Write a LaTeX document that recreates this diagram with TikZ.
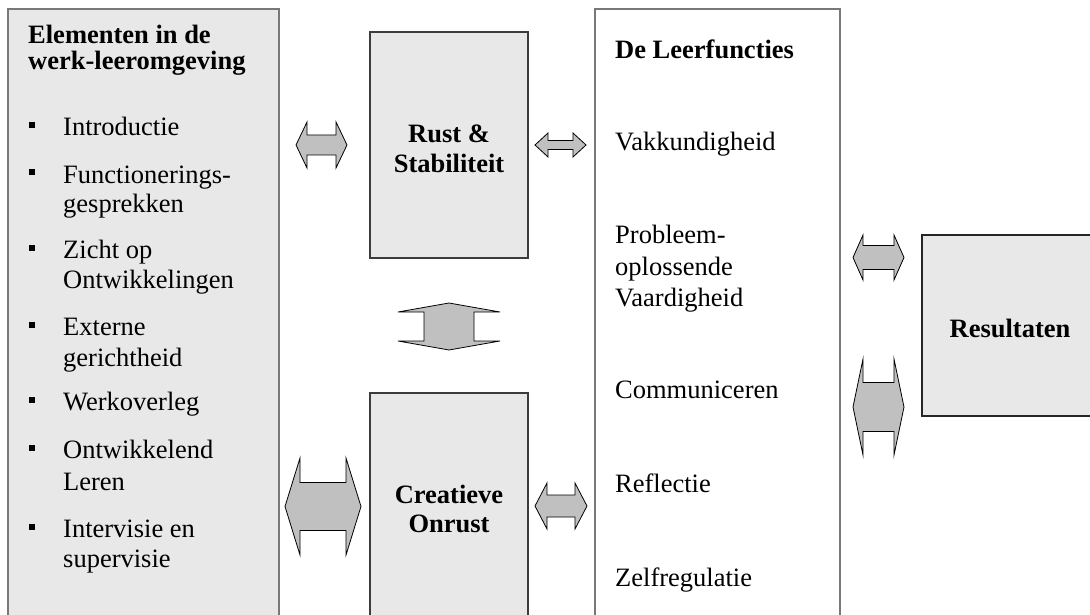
\documentclass[tikz,border=0pt]{standalone}
\usepackage{fontspec}
\setmainfont{Liberation Serif}
\definecolor{boxfill}{RGB}{232,232,232}
\definecolor{arrowfill}{RGB}{192,192,192}
\definecolor{edgegray}{RGB}{120,120,120}
\definecolor{edgedark}{RGB}{60,60,60}
\tikzset{
  panel/.style={fill=boxfill, draw=edgegray, line width=1.3pt},
  whitepanel/.style={fill=white, draw=edgegray, line width=1.3pt},
  darkpanel/.style={fill=boxfill, draw=edgedark, line width=1.2pt},
  blockarrow/.style={fill=arrowfill, draw=black, line width=0.8pt, line join=miter},
  txt/.style={inner sep=0pt, anchor=base west, font=\fontsize{26.5}{28}\selectfont},
  head/.style={txt, font=\fontsize{26.5}{28}\selectfont\bfseries},
  ctitle/.style={inner sep=0pt, anchor=base, font=\fontsize{26.5}{28}\selectfont\bfseries},
  bullet/.style={fill=black, inner sep=0pt, minimum size=6pt},
}
% horizontal double block arrow: centre x, centre y, half length, half head height, half shaft height, head length
\newcommand{\harrowblock}[6]{%
  \draw[blockarrow] (#1-#3,#2) -- (#1-#3+#6,#2-#4) -- (#1-#3+#6,#2-#5) -- (#1+#3-#6,#2-#5)
    -- (#1+#3-#6,#2-#4) -- (#1+#3,#2) -- (#1+#3-#6,#2+#4) -- (#1+#3-#6,#2+#5)
    -- (#1-#3+#6,#2+#5) -- (#1-#3+#6,#2+#4) -- cycle;}
% vertical double block arrow: centre x, centre y, half length, half head width, half shaft width, head length
\newcommand{\varrowblock}[6]{%
  \draw[blockarrow] (#1,#2-#3) -- (#1+#4,#2-#3+#6) -- (#1+#5,#2-#3+#6) -- (#1+#5,#2+#3-#6)
    -- (#1+#4,#2+#3-#6) -- (#1,#2+#3) -- (#1-#4,#2+#3-#6) -- (#1-#5,#2+#3-#6)
    -- (#1-#5,#2-#3+#6) -- (#1-#4,#2-#3+#6) -- cycle;}
\begin{document}
\begin{tikzpicture}[x=1pt,y=-1pt]
\useasboundingbox (0,0) rectangle (1090,615);
\clip (0,0) rectangle (1090,615);
\fill[white] (0,0) rectangle (1090,615);

% boxes
\draw[panel] (8,9) rectangle (279,625);
\draw[darkpanel] (370,32) rectangle (528,258);
\draw[darkpanel] (370,393) rectangle (528,625);
\draw[whitepanel] (595,9) rectangle (840,625);
\draw[darkpanel, draw=black!85] (922,235) rectangle (1100,416);

% left column: elements of the work-learning environment
\node[head] (elA) at (28,44) {Elementen in de};
\node[head] (elB) at (28,70) {werk-leeromgeving};
\foreach \nm/\yy in {b1/136,b2/183,b3/258,b4/335,b5/410,b6/458,b7/537}
  \node[bullet] (\nm) at (32,\yy-10.5) {};
\node[txt] (i1) at (63,136) {Introductie};
\node[txt] (i2a) at (63,183) {Functionerings-};
\node[txt] (i2b) at (63,212) {gesprekken};
\node[txt] (i3a) at (63,258) {Zicht op};
\node[txt] (i3b) at (63,288) {Ontwikkelingen};
\node[txt] (i4a) at (63,335) {Externe};
\node[txt] (i4b) at (63,366) {gerichtheid};
\node[txt] (i5) at (63,410) {Werkoverleg};
\node[txt] (i6a) at (63,458) {Ontwikkelend};
\node[txt] (i6b) at (63,490) {Leren};
\node[txt] (i7a) at (63,537) {Intervisie en};
\node[txt] (i7b) at (63,567) {supervisie};

% middle boxes
\node[ctitle] (rA) at (449,143) {Rust \&};
\node[ctitle] (rB) at (449,172) {Stabiliteit};
\node[ctitle] (cA) at (449,503) {Creatieve};
\node[ctitle] (cB) at (449,532) {Onrust};

% learning functions
\node[head] (lf) at (615,59) {De Leerfuncties};
\node[txt] (f1) at (615,151) {Vakkundigheid};
\node[txt] (f2a) at (615,243) {Probleem-};
\node[txt] (f2b) at (615,275) {oplossende};
\node[txt] (f2c) at (615,306) {Vaardigheid};
\node[txt] (f3) at (615,398) {Communiceren};
\node[txt] (f4) at (615,492) {Reflectie};
\node[txt] (f5) at (615,586) {Zelfregulatie};

% results
\node[ctitle] (res) at (1010,337) {Resultaten};

% block arrows
\harrowblock{321.5}{145}{25.5}{23}{10}{11}
\harrowblock{560.5}{145}{25.5}{12}{4.5}{13}
\varrowblock{449}{326.5}{23.5}{51}{25}{9}
\harrowblock{323}{506.5}{38}{48.5}{24}{15}
\harrowblock{561}{506}{26}{23}{11}{12}
\harrowblock{878.5}{257.5}{25.5}{22.5}{12}{10}
\harrowblock{878.5}{407}{25.5}{48}{24.5}{10}
\end{tikzpicture}
\end{document}
